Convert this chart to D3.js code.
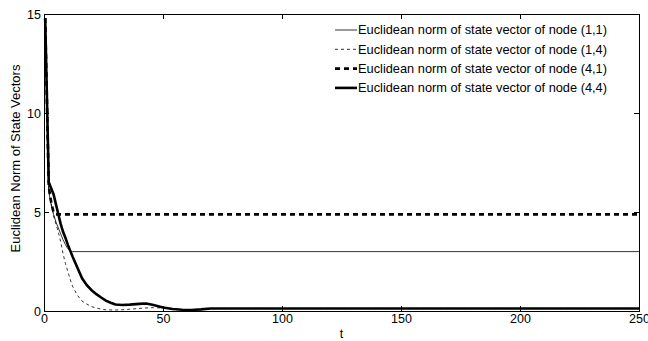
<!DOCTYPE html>
<meta charset="utf-8">
<style>
body { margin: 0; background: #fff; font-family: "Liberation Sans", Arial, sans-serif; }
.axis path, .axis line { fill: none; stroke: #000; shape-rendering: crispEdges; }
.axis text { font-size: 12.5px; font-family: "Liberation Sans", Arial, sans-serif; fill: #000; }
.leg text { font-size: 12.8px; }
</style>
<body>
<script src="https://cdn.jsdelivr.net/npm/d3@7"></script>
<script>

// series data
var names = ["Euclidean norm of state vector of node (1,1)",
             "Euclidean norm of state vector of node (1,4)",
             "Euclidean norm of state vector of node (4,1)",
             "Euclidean norm of state vector of node (4,4)"];

var t11 = [0.5, 2, 3, 4, 5, 6, 7, 8, 9, 10, 11, 12, 250];
var v11 = [14.8, 6.0, 5.4, 4.9, 4.5, 4.2, 3.9, 3.6, 3.35, 3.15, 3.03, 3.0, 3.0];

var t14 = [0.5, 2, 3, 4, 5, 6, 7, 8, 9, 10, 11, 12, 14, 16, 18, 20, 23, 26, 30, 34, 38, 42, 46, 50, 54, 58, 62, 66, 70, 250];
var v14 = [14.8, 6.2, 5.4, 4.8, 4.4, 4.0, 3.5, 2.9, 2.4, 2.0, 1.6, 1.25, 0.8, 0.5, 0.35, 0.22, 0.12, 0.06, 0.05, 0.07, 0.11, 0.15, 0.17, 0.15, 0.1, 0.06, 0.05, 0.08, 0.12, 0.12];

var t41 = [0.5, 2, 3, 4, 5, 250];
var v41 = [14.8, 6.3, 5.5, 5.0, 4.88, 4.88];

var t44 = [0.5, 2, 3, 4, 5, 6, 7, 8, 9, 10, 11, 12, 14, 16, 18, 20, 22, 24, 26, 28, 30, 33, 36, 40, 43, 46, 50, 54, 58, 62, 66, 70, 250];
var v44 = [14.8, 6.5, 6.2, 5.9, 5.4, 4.9, 4.4, 4.0, 3.7, 3.35, 3.05, 2.75, 2.2, 1.65, 1.3, 1.05, 0.85, 0.68, 0.52, 0.42, 0.33, 0.3, 0.32, 0.36, 0.38, 0.3, 0.18, 0.1, 0.06, 0.05, 0.08, 0.13, 0.13];

var xTicks = [0, 50, 100, 150, 200, 250];
var yTicks = [0, 5, 10, 15];

var margin = {top: 14, right: 9, bottom: 30, left: 44},
    width = 648 - margin.left - margin.right,
    height = 341 - margin.top - margin.bottom;

var x = d3.scaleLinear().domain([0, 250]).range([0, width]);
var y = d3.scaleLinear().domain([0, 15]).range([height, 0]);

var svg = d3.select("body").append("svg")
    .attr("width", 648)
    .attr("height", 341)
  .append("g")
    .attr("transform", "translate(" + margin.left + "," + margin.top + ")");

svg.append("g").attr("class", "axis")
    .attr("transform", "translate(0," + height + ")")
    .call(d3.axisBottom(x).tickValues(xTicks).tickSizeInner(-5).tickSizeOuter(0).tickPadding(3));
svg.append("g").attr("class", "axis")
    .call(d3.axisLeft(y).tickValues(yTicks).tickSizeInner(-5).tickSizeOuter(0).tickPadding(3));
svg.append("g").attr("class", "axis")
    .call(d3.axisTop(x).tickValues(xTicks).tickSizeInner(-5).tickSizeOuter(0).tickFormat(""));
svg.append("g").attr("class", "axis")
    .attr("transform", "translate(" + width + ",0)")
    .call(d3.axisRight(y).tickValues(yTicks).tickSizeInner(-5).tickSizeOuter(0).tickFormat(""));

var line = d3.line()
    .x(function(d) { return x(d[0]); })
    .y(function(d) { return y(d[1]); });

var series = [
  {t: t11, v: v11, w: 0.8, dash: null},
  {t: t14, v: v14, w: 0.8, dash: "3,3"},
  {t: t41, v: v41, w: 2.6, dash: "5,4"},
  {t: t44, v: v44, w: 2.6, dash: null}
];

series.forEach(function(s) {
  svg.append("path")
      .datum(d3.zip(s.t, s.v))
      .attr("fill", "none")
      .attr("stroke", "#000")
      .attr("stroke-width", s.w)
      .attr("stroke-dasharray", s.dash)
      .attr("d", line);
});

// legend, no box
var leg = svg.append("g").attr("class", "leg");
series.forEach(function(s, i) {
  var ly = 16 + i * 19.3;
  leg.append("line")
      .attr("x1", 291).attr("x2", 313)
      .attr("y1", ly).attr("y2", ly)
      .attr("stroke", "#000")
      .attr("stroke-width", s.w)
      .attr("stroke-dasharray", s.dash);
  leg.append("text")
      .attr("x", 314).attr("y", ly)
      .attr("dy", "0.35em")
      .text(names[i]);
});

svg.append("text")
    .attr("x", width / 2).attr("y", height + 27)
    .attr("text-anchor", "middle")
    .style("font-size", "12.5px")
    .text("t");

svg.append("text")
    .attr("transform", "rotate(-90)")
    .attr("x", -height / 2 + 4).attr("y", -24)
    .attr("text-anchor", "middle")
    .style("font-size", "13px")
    .text("Euclidean Norm of State Vectors");

</script>
